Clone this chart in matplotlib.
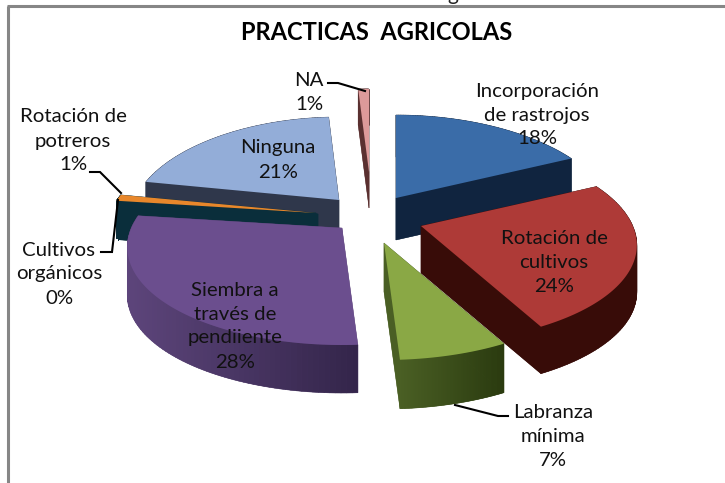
import numpy as np
import matplotlib
matplotlib.use("Agg")
import matplotlib.pyplot as plt
from matplotlib.colors import to_rgb
from matplotlib.patches import Polygon, Rectangle

plt.rcParams['font.family'] = ['Lato', 'DejaVu Sans']

title = "PRACTICAS  AGRICOLAS"
categories = ["Incorporación\nde rastrojos", "Rotación de\ncultivos", "Labranza\nmínima",
              "Siembra a\ntravés de\npendiiente", "Cultivos\norgánicos", "Rotación de\npotreros",
              "Ninguna", "NA"]
values = [18, 24, 7, 28, 0, 1, 21, 1]

# look of each slice
top_colors = ["#3a6ca8", "#ae3a37", "#8aa845", "#6b4e8e", "#0a2e3b", "#e8872b", "#93add8", "#dd9a9a"]
wall_left = ["#10243f", "#380c08", "#4a5f24", "#5d457b", "#0a2e3b", "#0a2e3b", "#2f374b", "#5a3030"]
wall_right = ["#10243f", "#380c08", "#2a3a0f", "#33254a", "#0a2e3b", "#0a2e3b", "#2f374b", "#5a3030"]

# where each exploded slice sits, in pixels
apex_x = [396, 421, 384, 342, 318, 316, 339, 369]
apex_y = [198, 226, 243, 228, 214, 213, 200, 172]
depth = [42, 47, 49, 48, 38, 38, 38, 36]
size = [0.985, 0.985, 0.985, 0.98, 0.96, 0.96, 0.95, 1.0]
draw_order = [7, 6, 0, 4, 5, 1, 3, 2]

label_x = [537, 554, 553, 235, 59, 73, 278, 309]
label_y = [115, 262, 437, 326, 274, 141, 160, 92]

fig = plt.figure(figsize=(7.25, 4.83), dpi=100)
ax = fig.add_axes([0, 0, 1, 1])
ax.set_xlim(0, 725)
ax.set_ylim(483, 0)
ax.axis("off")


def project(i, theta):
    # tilted disc, the front looks bigger than the back
    u = np.cos(theta)
    x = apex_x[i] + 215 * size[i] * np.sin(theta) * (1 - 0.2 * u)
    y = apex_y[i] - 100 * u * (1 - 0.17 * u)
    return x, y


edges = np.cumsum([0] + values) / sum(values) * 2 * np.pi

for i in draw_order:
    theta = np.linspace(edges[i], edges[i + 1], 80)
    x, y = project(i, theta)
    top = np.column_stack([np.r_[apex_x[i], x], np.r_[apex_y[i], y]])
    low = top + [0, depth[i]]

    # bottom face and the two cut sides
    ax.add_patch(Polygon(low, fc=wall_left[i], ec="none"))
    for p, q in [(top[0], top[1]), (top[0], top[-1])]:
        ax.add_patch(Polygon([p, q, q + [0, depth[i]], p + [0, depth[i]]], fc=wall_left[i], ec=wall_left[i], lw=0.3))

    # round side, shaded left to right
    c0 = np.array(to_rgb(wall_left[i]))
    c1 = np.array(to_rgb(wall_right[i]))
    xmin, xmax = x.min(), x.max()
    for k in range(len(x) - 1):
        t = 0 if xmax == xmin else ((x[k] + x[k + 1]) / 2 - xmin) / (xmax - xmin)
        col = c0 + (c1 - c0) * t
        ax.add_patch(Polygon([(x[k], y[k]), (x[k + 1], y[k + 1]),
                              (x[k + 1], y[k + 1] + depth[i]), (x[k], y[k] + depth[i])],
                             fc=col, ec=col, lw=0.4))

    ax.add_patch(Polygon(top, fc=top_colors[i], ec="none"))

# leader lines
line_style = dict(color="black", lw=1.5, solid_joinstyle="miter")
ax.plot([328, 338, 365], [83, 83, 91], **line_style)
ax.plot([90, 100, 121], [172, 172, 193], **line_style)
ax.plot([101, 112, 118], [252, 252, 200], **line_style)
ax.plot([508, 498, 455], [416, 416, 405], **line_style)

for i, name in enumerate(categories):
    ax.text(label_x[i], label_y[i], f"{name}\n{values[i]}%", ha="center", va="center",
            fontsize=14.7, linespacing=1.5, color="#111111")

# 7% is cut off at the bottom in the source
ax.add_patch(Rectangle((520, 469), 70, 14, fc="white", ec="none", zorder=5))

ax.text(377, 32, title, ha="center", va="center", fontsize=17, fontweight="bold", color="black")
ax.text(453, -6, "g", ha="center", va="center", fontsize=15, color="#222222")

# frame of the original chart, partly cropped
ax.plot([8, 8], [483, 6], color="#868686", lw=2.2, solid_capstyle="butt")
ax.plot([7, 725], [6, 6], color="#868686", lw=2.2, solid_capstyle="butt")

fig.savefig("out.png", dpi=100)
